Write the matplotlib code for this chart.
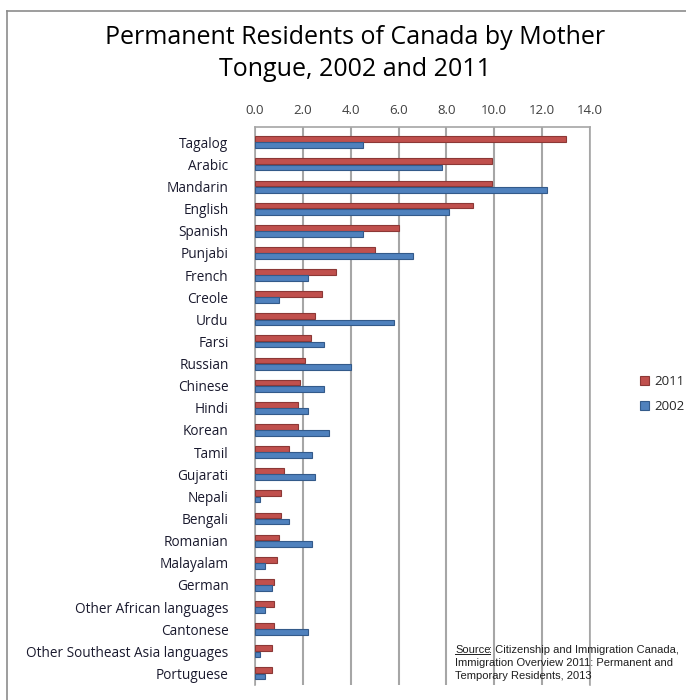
import matplotlib
matplotlib.use("Agg")
import matplotlib.pyplot as plt
import numpy as np
from matplotlib.lines import Line2D

languages = [
    "Tagalog", "Arabic", "Mandarin", "English", "Spanish", "Punjabi", "French",
    "Creole", "Urdu", "Farsi", "Russian", "Chinese", "Hindi", "Korean", "Tamil",
    "Gujarati", "Nepali", "Bengali", "Romanian", "Malayalam", "German",
    "Other African languages", "Cantonese", "Other Southeast Asia languages",
    "Portuguese",
]
pct_2011 = [13.0, 9.9, 9.9, 9.1, 6.0, 5.0, 3.4, 2.8, 2.5, 2.35, 2.1, 1.9, 1.8,
            1.8, 1.4, 1.2, 1.1, 1.1, 1.0, 0.9, 0.8, 0.8, 0.8, 0.7, 0.7]
pct_2002 = [4.5, 7.8, 12.2, 8.1, 4.5, 6.6, 2.2, 1.0, 5.8, 2.9, 4.0, 2.9, 2.2,
            3.1, 2.4, 2.5, 0.2, 1.4, 2.4, 0.4, 0.7, 0.4, 2.2, 0.2, 0.4]
xticks = np.arange(0, 14.1, 2.0)

plt.rcParams['font.family'] = ['Open Sans', 'DejaVu Sans']

red, red_edge = '#C0504D', '#8C3836'
blue, blue_edge = '#4F81BD', '#335A8A'

fig = plt.figure(figsize=(6.86, 7.0), dpi=100)

# outer chart frame (left and top edges only visible)
fig.add_artist(Line2D([7 / 686, 7 / 686], [0, 1 - 11 / 700], color='#8C8C8C', lw=1.2))
fig.add_artist(Line2D([7 / 686, 1], [1 - 11 / 700, 1 - 11 / 700], color='#8C8C8C', lw=1.2))

ax = fig.add_axes([255 / 686, 1 - 684.5 / 700, 335 / 686, 557.5 / 700])

n = len(languages)
y = np.arange(n)
h = 0.26
ax.barh(y - 0.14, pct_2011, height=h, color=red, edgecolor=red_edge, lw=0.8,
        label='2011', zorder=3)
ax.barh(y + 0.14, pct_2002, height=h, color=blue, edgecolor=blue_edge, lw=0.8,
        label='2002', zorder=3)

ax.set_xlim(0, 14)
ax.set_ylim(n - 0.5, -0.69)
ax.set_xticks(xticks)
ax.set_xticklabels([f"{v:.1f}" for v in xticks])
ax.xaxis.tick_top()
ax.tick_params(axis='x', length=0, pad=7, labelsize=9.5, colors='#404040')
ax.set_yticks(y)
ax.set_yticklabels(languages)
ax.tick_params(axis='y', length=0, pad=19, labelsize=9.8, labelcolor='#1A1A2E')

ax.grid(axis='x', color='#A6A6A6', lw=1.5, zorder=0)
for s in ['left', 'top', 'right']:
    ax.spines[s].set_color('#A6A6A6')
    ax.spines[s].set_linewidth(1.2)
ax.spines['bottom'].set_visible(False)

fig.text(0.517, 1 - 38 / 700, "Permanent Residents of Canada by Mother",
         ha='center', va='center', fontsize=18, color='black')
fig.text(0.517, 1 - 69 / 700, "Tongue, 2002 and 2011",
         ha='center', va='center', fontsize=18, color='black')

fig.legend(loc='center left', bbox_to_anchor=(628 / 686, 1 - 394 / 700),
           frameon=False, fontsize=9.5, handlelength=0.7, handleheight=0.7,
           handletextpad=0.4, labelspacing=0.9, labelcolor='#262626')

src_font = dict(family='Liberation Sans', fontsize=8.0, color='#1F1F1F')
t1 = fig.text(455 / 686, 1 - 650 / 700, "Source", va='center', ha='left', **src_font)
fig.canvas.draw()
bb = t1.get_window_extent(renderer=fig.canvas.get_renderer())
fig.add_artist(Line2D([bb.x0 / fig.bbox.width, (bb.x1 - 1) / fig.bbox.width],
                      [(bb.y0 + 1.5) / fig.bbox.height] * 2, color='#1F1F1F', lw=0.7))
fig.text((bb.x1 - 1.5) / fig.bbox.width, 1 - 650 / 700,
         ": Citizenship and Immigration Canada,", va='center', ha='left', **src_font)
fig.text(455 / 686, 1 - 663 / 700, "Immigration Overview 2011: Permanent and",
         va='center', ha='left', **src_font)
fig.text(455 / 686, 1 - 676 / 700, "Temporary Residents, 2013",
         va='center', ha='left', **src_font)

fig.savefig("out.png", dpi=100)
